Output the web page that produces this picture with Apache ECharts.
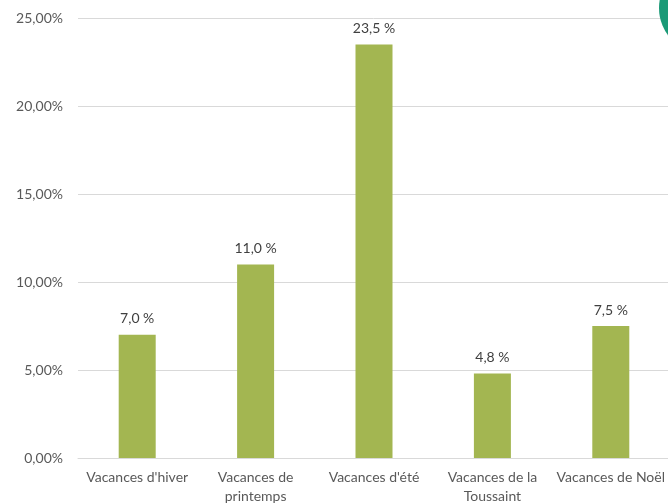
<!DOCTYPE html>
<html>
<head>
<meta charset="utf-8">
<script src="https://cdn.jsdelivr.net/npm/echarts@6/dist/echarts.min.js"></script>
<style>
  html, body { margin: 0; padding: 0; background: #fff; }
  #chart { width: 668px; height: 503px; }
</style>
</head>
<body>
<div id="chart"></div>
<script>
var categories = ["Vacances d'hiver", "Vacances de\nprintemps", "Vacances d'été", "Vacances de la\nToussaint", "Vacances de Noël"];
var values = [7.0, 11.0, 23.5, 4.8, 7.5];
var yTicks = [0, 5, 10, 15, 20, 25];

var chart = echarts.init(document.getElementById('chart'));

function frNum(v, d) {
  return v.toFixed(d).replace('.', ',');
}

chart.setOption({
  animation: false,
  textStyle: { fontFamily: 'Lato, "Open Sans", sans-serif' },
  grid: { left: 78, right: -2, top: 18, bottom: 45, containLabel: false, outerBoundsMode: 'none' },
  xAxis: {
    type: 'category',
    data: categories,
    axisTick: { show: false },
    axisLine: { lineStyle: { color: '#d9d9d9', width: 1 } },
    axisLabel: { color: '#595959', fontSize: 14, margin: 10, lineHeight: 19, interval: 0 }
  },
  yAxis: {
    type: 'value',
    min: yTicks[0],
    max: yTicks[yTicks.length - 1],
    interval: 5,
    axisLine: { show: false },
    axisTick: { show: false },
    splitLine: { lineStyle: { color: '#d9d9d9', width: 1 } },
    axisLabel: {
      color: '#595959', fontSize: 14, margin: 15,
      formatter: function (v) { return frNum(v, 2) + '%'; }
    }
  },
  series: [{
    type: 'bar',
    data: values,
    barWidth: 37,
    itemStyle: { color: '#a3b651' },
    label: {
      show: true,
      position: 'top',
      distance: 9,
      color: '#404040',
      fontSize: 14,
      formatter: function (p) { return frNum(p.value, 1) + ' %'; }
    }
  }],
  graphic: [{
    type: 'circle',
    shape: { cx: 705, cy: 8, r: 46 },
    style: { fill: '#1b9a77' },
    z: 100
  }]
});
</script>
</body>
</html>
